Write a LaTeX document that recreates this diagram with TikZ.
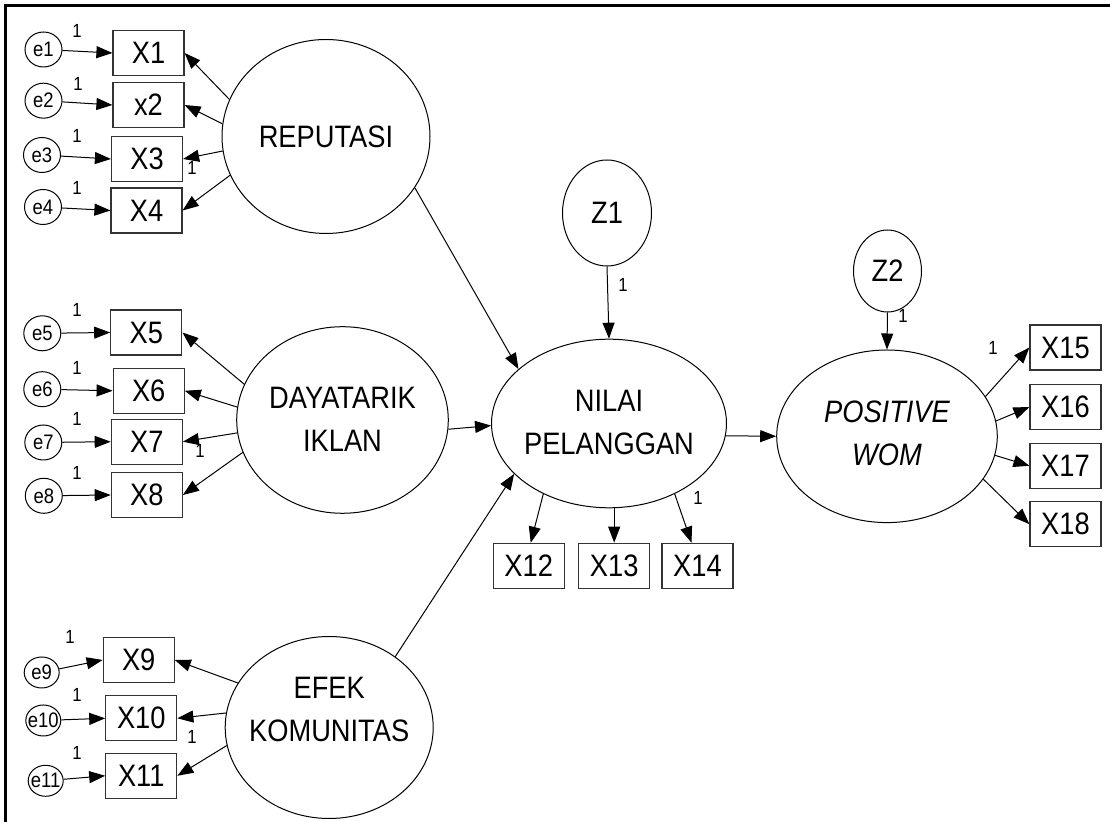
\documentclass[tikz,border=0pt]{standalone}
\usepackage{fontspec}
\setmainfont{Liberation Sans}
\newfontfamily\amos[FakeStretch=0.88]{Liberation Sans}
\newfontfamily\amosnarrow[FakeStretch=0.88]{Liberation Sans}
\usetikzlibrary{arrows.meta,shapes.geometric}

\tikzset{
  latent/.style={draw, ellipse, line width=0.5pt, inner sep=0pt},
  lattext/.style={align=center, inner sep=0pt, font=\amos\fontsize{15.5}{21.5}\selectfont},
  err/.style={draw, ellipse, line width=0.5pt, inner sep=0pt,
    minimum width=18.5pt, minimum height=17.5pt, font=\amosnarrow\fontsize{10.5}{12}\selectfont},
  errsm/.style={err, minimum width=17.5pt, minimum height=15.5pt},
  obs/.style={draw=black!80, rectangle, line width=0.6pt, inner sep=0pt,
    minimum width=35.5pt, minimum height=22.5pt, font=\amos\fontsize{15.5}{16}\selectfont},
  one/.style={inner sep=0pt, font=\amos\fontsize{9.5}{10}\selectfont},
  path/.style={-{Triangle[length=8pt,width=6pt]}, line width=0.5pt},
}

\begin{document}
\begin{tikzpicture}[x=0.5pt,y=-0.5pt]
\useasboundingbox (0,0) rectangle (1110,822);
\fill[white] (0,0) rectangle (1110,822);

% frame (top and left edges)
\draw[line width=1.65pt, line join=miter] (5.6,822) -- (5.6,5.6) -- (1110,5.6);

% ---------- latent variables ----------
\node[latent, minimum width=104pt,   minimum height=97pt]   (rep) at (326,136.5) {};
\node[latent, minimum width=105.8pt, minimum height=93.3pt] (day) at (342.5,420) {};
\node[latent, minimum width=104pt,   minimum height=91pt]   (efk) at (329.2,727.5) {};
\node[latent, minimum width=117.5pt, minimum height=84.3pt] (nil) at (609,423.5) {};
\node[latent, minimum width=110.3pt, minimum height=86.3pt] (pos) at (887,436.3) {};
\node[latent, minimum width=44.5pt,  minimum height=53pt, font=\amos\fontsize{15.5}{16}\selectfont] (z1) at (607,213) {Z1};
\node[latent, minimum width=34pt,    minimum height=41pt, font=\amos\fontsize{15.5}{16}\selectfont] (z2) at (887.5,271) {Z2};

\node[lattext] (rep-t) at (326,136.5) {REPUTASI};
\node[lattext] (day-t) at (342.5,419) {DAYATARIK\\IKLAN};
\node[lattext] (efk-t) at (329.2,709) {EFEK\\KOMUNITAS};
\node[lattext] (nil-t) at (609,422) {NILAI\\PELANGGAN};
\node[lattext] (pos-t) at (887,433) {\itshape POSITIVE\\\itshape WOM};

% ---------- error terms ----------
\node[err]   (e1)  at (43.5,49.5)  {\makebox[0pt]{e1}};
\node[err]   (e2)  at (43.5,100.7) {\makebox[0pt]{e2}};
\node[err]   (e3)  at (42,155)     {\makebox[0pt]{e3}};
\node[err]   (e4)  at (43,207)     {\makebox[0pt]{e4}};
\node[err]   (e5)  at (42.3,333.3) {\makebox[0pt]{e5}};
\node[err]   (e6)  at (42.3,389.2) {\makebox[0pt]{e6}};
\node[err]   (e7)  at (43.3,442.5) {\makebox[0pt]{e7}};
\node[err]   (e8)  at (43.8,495.8) {\makebox[0pt]{e8}};
\node[errsm] (e9)  at (41.7,672.5) {\makebox[0pt]{e9}};
\node[errsm] (e10) at (43.3,720.5) {\makebox[0pt]{e10}};
\node[errsm] (e11) at (45.7,780.8) {\makebox[0pt]{e11}};

% ---------- observed indicators ----------
\node[obs] (X1)  at (148.5,53)    {X1};
\node[obs] (X2)  at (148.5,105)   {x2};
\node[obs] (X3)  at (147,159)     {X3};
\node[obs] (X4)  at (146.5,210.5) {X4};
\node[obs] (X5)  at (146.3,332.5) {X5};
\node[obs] (X6)  at (148.7,390.8) {X6};
\node[obs] (X7)  at (146.8,441.7) {X7};
\node[obs] (X8)  at (146.8,495)   {X8};
\node[obs] (X9)  at (138.7,660)   {X9};
\node[obs] (X10) at (141.3,718.3) {X10};
\node[obs] (X11) at (141.3,775.8) {X11};
\node[obs] (X12) at (528.7,565.8) {X12};
\node[obs] (X13) at (614.2,565.8) {X13};
\node[obs] (X14) at (697.5,565.8) {X14};
\node[obs] (X15) at (1065.5,347.5) {X15};
\node[obs] (X16) at (1065.5,407)   {X16};
\node[obs] (X17) at (1065.5,465.8) {X17};
\node[obs] (X18) at (1065.5,524.2) {X18};

% ---------- error -> indicator ----------
\foreach \i in {1,...,11} {
  \draw[path] (e\i) -- (X\i.west);
}

% ---------- loadings ----------
\draw[path] (rep.159.5) -- (X1.east);
\draw[path] (rep.173.6) -- (X2.east);
\draw[path] (rep.188.3) -- (X3.east);
\draw[path] (rep.202.4) -- (X4.east);

\draw[path] (day.160)   -- (X5.east);
\draw[path] (day.173)   -- (X6.east);
\draw[path] (day.187)   -- (X7.east);
\draw[path] (day.198.9) -- (X8.east);

\draw[path] (efk.154.8) -- (X9.east);
\draw[path] (efk.172.6) -- (X10.east);
\draw[path] (efk.190)   -- (X11.east);

\draw[path] (nil.227.3) -- ([xshift=1pt]X12.north);
\draw[path] (X13.north |- nil.south) -- (X13.north);
\draw[path] (nil.313.8) -- ([xshift=-3pt]X14.north);

\draw[path] (pos.22.9)  -- (X15.west);
\draw[path] (pos.8.6)   -- (X16.west);
\draw[path] (pos.350.7) -- (X17.west);
\draw[path] (pos.336.8) -- (X18.west);

% ---------- structural paths ----------
\draw[path] (rep.330)  -- (nil.149);
\draw[path] (day.355)  -- (nil.181.2);
\draw[path] (efk.47.9) -- (nil.208.7);
\draw[path] (nil.354)  -- (pos.180);
\draw[path] (z1.south) -- (nil.north);
\draw[path] (z2.south) -- (pos.north);

% ---------- fixed parameters ----------
\node[one] (l1)  at (77,31)   {1};
\node[one] (l2)  at (78,84)   {1};
\node[one] (l3)  at (77,136)  {1};
\node[one] (l4)  at (77,188)  {1};
\node[one] (l5)  at (77,310)  {1};
\node[one] (l6)  at (77,368)  {1};
\node[one] (l7)  at (77,419)  {1};
\node[one] (l8)  at (77,473)  {1};
\node[one] (l9)  at (70,637)  {1};
\node[one] (l10) at (77,695)  {1};
\node[one] (l11) at (77,753)  {1};
\node[one] (lx3)  at (192,168) {1};
\node[one] (lx7)  at (200,451) {1};
\node[one] (lx10) at (192,737) {1};
\node[one] (lz1)  at (623,285) {1};
\node[one] (lx14) at (698,498) {1};
\node[one] (lz2)  at (903,316) {1};
\node[one] (lx15) at (993,348) {1};
\end{tikzpicture}
\end{document}
